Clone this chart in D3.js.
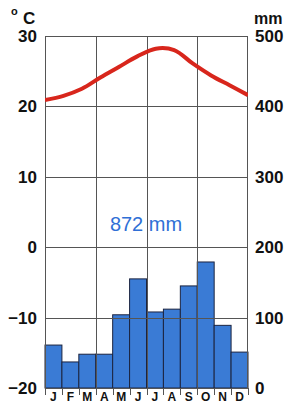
<!DOCTYPE html>
<html>
<head>
<meta charset="utf-8">
<script src="https://cdn.jsdelivr.net/npm/d3@7"></script>
<style>
  body { margin: 0; background: #fff; }
  svg text { font-family: "Liberation Sans", Arial, sans-serif; }
</style>
</head>
<body>
<div id="chart"></div>
<script>
var months = ["J", "F", "M", "A", "M", "J", "J", "A", "S", "O", "N", "D"];
// temperature curve runs edge to edge of the plot
var temps = [20.9, 21.5, 22.5, 24.1, 25.6, 27.1, 28.2, 28.0, 26.1, 24.4, 23.0, 21.6];
var precip = [61, 37, 48, 48, 104, 155, 108, 112, 145, 179, 89, 51];
var tempTicks = [-20, -10, 0, 10, 20, 30];
var precipTicks = [0, 100, 200, 300, 400, 500];
var totalLabel = "872 mm";

var width = 288, height = 405;
var plotLeft = 45, plotRight = 248, plotTop = 36, plotBottom = 388;

var svg = d3.select("#chart").append("svg").attr("width", width).attr("height", height);

var x = d3.scaleBand().domain(d3.range(12)).range([plotLeft, plotRight]).padding(0);
var xLine = d3.scalePoint().domain(d3.range(12)).range([plotLeft, plotRight]).padding(0);
var yT = d3.scaleLinear().domain([-20, 30]).range([plotBottom, plotTop]);
var yP = d3.scaleLinear().domain([0, 500]).range([plotBottom, plotTop]);
var bw = x.bandwidth();

// bars
svg.append("g").selectAll("rect").data(precip).enter().append("rect")
  .attr("x", function(d, i) { return x(i); })
  .attr("y", function(d) { return yP(d); })
  .attr("width", bw)
  .attr("height", function(d) { return yP(0) - yP(d); })
  .attr("fill", "#3a7bd5")
  .attr("stroke", "#1c2440")
  .attr("stroke-width", 1);

// grid
var grid = svg.append("g").attr("stroke", "#555").attr("stroke-width", 1).attr("fill", "none");
grid.selectAll("line.h").data([-10, 0, 10, 20]).enter().append("line")
  .attr("x1", plotLeft).attr("x2", plotRight)
  .attr("y1", function(d) { return Math.round(yT(d)) + 0.5; })
  .attr("y2", function(d) { return Math.round(yT(d)) + 0.5; });
grid.selectAll("line.v").data([3, 6, 9]).enter().append("line")
  .attr("y1", plotTop).attr("y2", plotBottom)
  .attr("x1", function(d) { return Math.round(x(d)) + 0.5; })
  .attr("x2", function(d) { return Math.round(x(d)) + 0.5; });
grid.append("rect").attr("x", plotLeft + 0.5).attr("y", plotTop + 0.5)
  .attr("width", plotRight - plotLeft - 1).attr("height", plotBottom - plotTop);
// month separators below axis
grid.selectAll("line.t").data(d3.range(13)).enter().append("line")
  .attr("y1", plotBottom).attr("y2", plotBottom + 7)
  .attr("x1", function(d) { return Math.round(plotLeft + d * bw) + 0.5; })
  .attr("x2", function(d) { return Math.round(plotLeft + d * bw) + 0.5; });

// temperature line
svg.append("clipPath").attr("id", "clip").append("rect")
  .attr("x", plotLeft).attr("y", plotTop).attr("width", plotRight - plotLeft).attr("height", plotBottom - plotTop);
svg.append("path")
  .attr("clip-path", "url(#clip)")
  .attr("d", d3.line()
    .x(function(d, i) { return xLine(i); })
    .y(function(d) { return yT(d); })
    .curve(d3.curveCatmullRom)(temps))
  .attr("fill", "none")
  .attr("stroke", "#d8261c")
  .attr("stroke-width", 4);

// axes labels
var axL = svg.append("g").attr("transform", "translate(" + plotLeft + ",0)")
  .call(d3.axisLeft(yT).tickValues(tempTicks).tickSize(0).tickPadding(8));
var axR = svg.append("g").attr("transform", "translate(" + plotRight + ",0)")
  .call(d3.axisRight(yP).tickValues(precipTicks).tickSize(0).tickPadding(7));
var axB = svg.append("g").attr("transform", "translate(0," + plotBottom + ")")
  .call(d3.axisBottom(x).tickFormat(function(i) { return months[i]; }).tickSize(0).tickPadding(4));
[axL, axR, axB].forEach(function(a) { a.select(".domain").remove(); });
axL.selectAll("text").attr("font-size", 17).attr("font-weight", "bold").attr("fill", "#111")
  .attr("font-family", "Liberation Sans, Arial, sans-serif");
axR.selectAll("text").attr("font-size", 17).attr("font-weight", "bold").attr("fill", "#111")
  .attr("font-family", "Liberation Sans, Arial, sans-serif");
axB.selectAll("text").attr("font-size", 12).attr("font-weight", "bold").attr("fill", "#111")
  .attr("font-family", "Liberation Sans, Arial, sans-serif");

// units
svg.append("text").attr("x", 11).attr("y", 15).attr("font-size", 11).attr("font-weight", "bold")
  .attr("fill", "#111").text("o");
svg.append("text").attr("x", 23).attr("y", 24).attr("font-size", 17).attr("font-weight", "bold")
  .attr("fill", "#111").text("C");
svg.append("text").attr("x", 254).attr("y", 24).attr("font-size", 16).attr("font-weight", "bold")
  .attr("fill", "#111").text("mm");

// total precipitation
svg.append("text").attr("x", 146).attr("y", 231).attr("text-anchor", "middle")
  .attr("font-size", 20).attr("fill", "#2f6fd6").text(totalLabel);
</script>
</body>
</html>
